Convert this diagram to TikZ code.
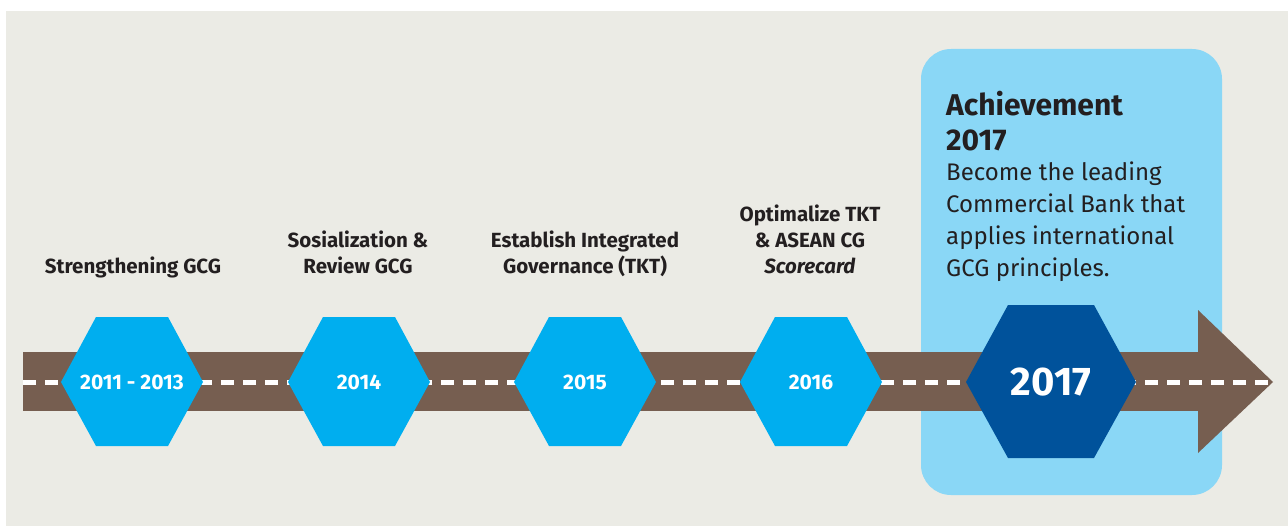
\documentclass[tikz,border=0pt]{standalone}
\usepackage{fontspec}
\setmainfont{Fira Sans}
\usetikzlibrary{positioning}
\definecolor{bgcol}{HTML}{EBEBE5}
\definecolor{panelcol}{HTML}{8AD7F6}
\definecolor{roadcol}{HTML}{765E50}
\definecolor{hexcol}{HTML}{00AEEF}
\definecolor{hexdark}{HTML}{00529B}
\definecolor{txtcol}{HTML}{231F20}

\begin{document}
\begin{tikzpicture}[x=1pt,y=-1pt,
 yearlab/.style={text=white,font=\bfseries\fontsize{21}{24}\selectfont,inner sep=0pt},
 steplab/.style={text=txtcol,font=\bfseries\fontsize{20.5}{26}\selectfont,align=center,inner sep=0pt,anchor=base},
 goallab/.style={text=txtcol,align=left,inner sep=0pt,anchor=base west}]
\useasboundingbox (0,0) rectangle (1288,527);
\fill[bgcol] (6,11) rectangle (1288,526);
\fill[panelcol,rounded corners=30pt] (921,49) rectangle (1222,495);
% road and arrow
\fill[roadcol] (23,352) rectangle (1199,411);
\fill[roadcol] (1198,310) -- (1273,382) -- (1198,453) -- cycle;
\draw[white,line width=5pt,dash pattern=on 13pt off 9pt] (23,382) -- (1273,382);
% milestones
\foreach \cx/\yr/\n in {132/2011 - 2013/a,359/2014/b,585/2015/c,811/2016/d}{
  \fill[hexcol] (\cx-71,382) -- (\cx-36,317) -- (\cx+36,317) -- (\cx+71,382)
    -- (\cx+36,446) -- (\cx-36,446) -- cycle;
  \node[yearlab] (year\n) at (\cx,382) {\yr};
}
\fill[hexdark] (966,382) -- (1008,305) -- (1094,305) -- (1136,382)
  -- (1094,458) -- (1008,458) -- cycle;
\node[yearlab,font=\bfseries\fontsize{40}{42}\selectfont] (yeare) at (1051,382) {2017};
% labels
\node[steplab] (stepa) at (133,273) {Strengthening GCG};
\node[steplab] (stepb) at (358,273) {Sosialization \&\\Review GCG};
\node[steplab] (stepc) at (585,273) {Establish Integrated\\Governance (TKT)};
\node[steplab] (stepd) at (810,273) {Optimalize TKT\\\& ASEAN CG\\\textit{Scorecard}};
\node[goallab,font=\bfseries\fontsize{30}{35}\selectfont] (goalhead) at (946,150) {Achievement\\2017};
\node[goallab,font=\fontsize{24}{32}\selectfont] (goaltext) at (946,276)
  {Become the leading\\Commercial Bank that\\applies international\\GCG principles.};
\end{tikzpicture}
\end{document}
